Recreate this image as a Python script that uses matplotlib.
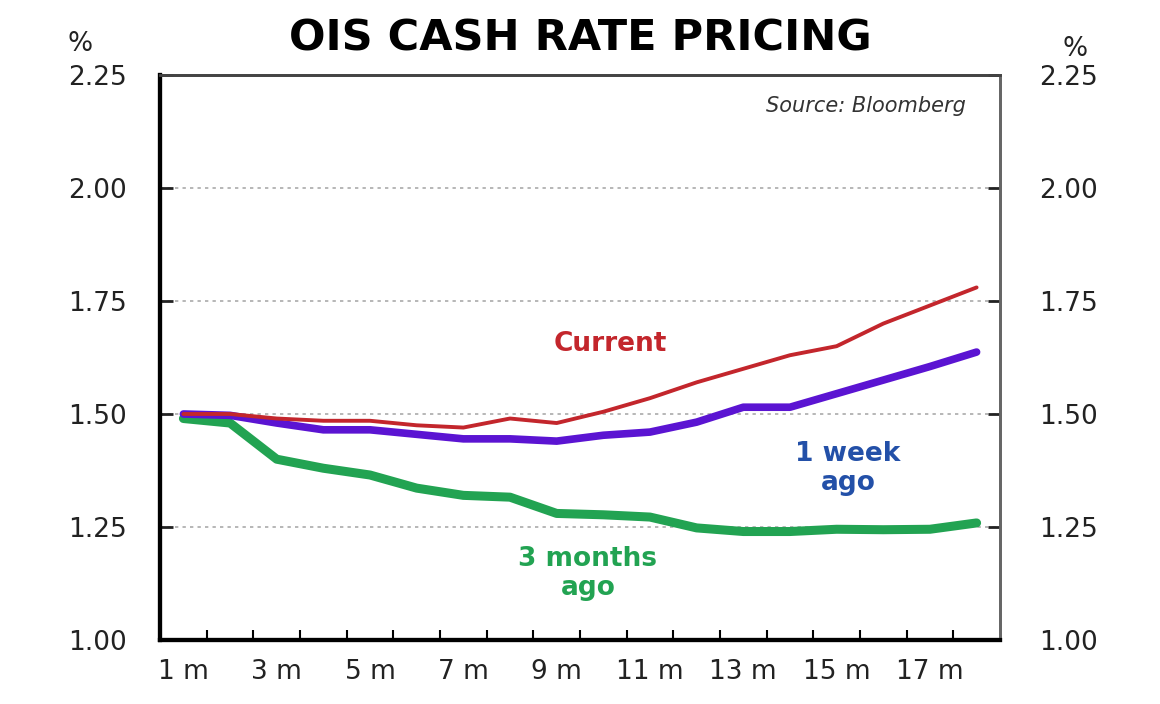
import numpy as np
import matplotlib.pyplot as plt

plt.rcParams['font.family'] = ['DejaVu Sans']

# data (per month, 1 m .. 18 m)
months = [f"{i} m" for i in range(1, 19)]
current = [1.50, 1.50, 1.49, 1.485, 1.485, 1.475, 1.47, 1.49, 1.48,
           1.505, 1.535, 1.57, 1.60, 1.63, 1.65, 1.70, 1.74, 1.78]
week_ago = [1.50, 1.497, 1.48, 1.465, 1.465, 1.455, 1.445, 1.445, 1.44,
            1.453, 1.46, 1.482, 1.515, 1.515, 1.545, 1.575, 1.605, 1.637]
months_ago = [1.49, 1.48, 1.40, 1.38, 1.365, 1.336, 1.32, 1.316, 1.28,
              1.277, 1.272, 1.248, 1.24, 1.24, 1.245, 1.244, 1.245, 1.259]
yticks = [1.00, 1.25, 1.50, 1.75, 2.00, 2.25]

fig = plt.figure(figsize=(11.6, 7.04), dpi=100)
ax = fig.add_axes([0.138, 0.0909, 0.724, 0.8026])

x = np.arange(len(months))
ax.plot(x, months_ago, color='#22a352', lw=6.5, solid_capstyle='round', zorder=3)
ax.plot(x, week_ago, color='#5b14d2', lw=5.5, solid_capstyle='round', zorder=4)
ax.plot(x, current, color='#c3262c', lw=2.8, solid_capstyle='round', zorder=5)

ax.set_xlim(-0.5, len(months) - 0.5)
ax.set_ylim(1.0, 2.25)
ax.set_yticks(yticks)
ax.set_yticklabels([f"{v:.2f}" for v in yticks])
for v in yticks[1:-1]:
    ax.axhline(v, color='#aaaaaa', lw=1.2, ls=(0, (2, 2.5)), zorder=1)

ax.set_xticks(x[::2])
ax.set_xticklabels(months[::2])
ax.set_xticks(np.arange(0.5, len(months) - 1), minor=True)
ax.tick_params(axis='x', which='major', length=0, labelsize=19, pad=14, colors='#222222')
ax.tick_params(axis='x', which='minor', direction='in', length=7, width=1.5)
ax.tick_params(axis='y', direction='in', length=9, width=2, labelsize=19,
               pad=24, colors='#222222')

ax2 = ax.twinx()
ax2.set_ylim(ax.get_ylim())
ax2.set_yticks(yticks)
ax2.set_yticklabels([f"{v:.2f}" for v in yticks])
ax2.tick_params(axis='y', direction='in', length=9, width=2, labelsize=19,
                pad=28, colors='#222222')

for a in (ax, ax2):
    a.spines['left'].set_linewidth(3)
    a.spines['bottom'].set_linewidth(3)
    a.spines['top'].set_linewidth(2)
    a.spines['top'].set_color('#444444')
    a.spines['right'].set_linewidth(2)
    a.spines['right'].set_color('#666666')

fig.text(0.5, 0.945, 'OIS CASH RATE PRICING', ha='center', va='center',
         fontsize=31, fontweight='bold')
fig.text(0.069, 0.937, '%', ha='center', va='center', fontsize=19, color='#222222')
fig.text(0.927, 0.930, '%', ha='center', va='center', fontsize=19, color='#222222')

ax.text(0.96, 0.945, 'Source: Bloomberg', transform=ax.transAxes, ha='right',
        va='center', fontsize=15, style='italic', color='#333333')
ax.text(9.14, 1.655, 'Current', ha='center', va='center', fontsize=19,
        fontweight='bold', color='#c3262c')
ax.text(14.24, 1.38, '1 week\nago', ha='center', va='center', fontsize=19,
        fontweight='bold', color='#2350a8', linespacing=1.15)
ax.text(8.67, 1.148, '3 months\nago', ha='center', va='center', fontsize=19,
        fontweight='bold', color='#22a352', linespacing=1.15)

fig.savefig('out.png', dpi=100)
